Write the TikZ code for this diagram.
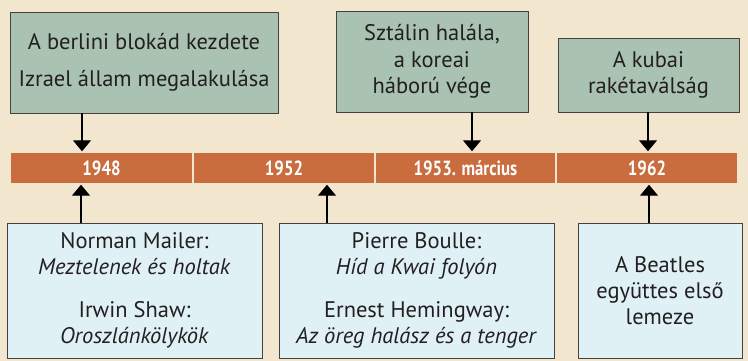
\documentclass[tikz,border=0pt]{standalone}
\usepackage{fontspec}
\setmainfont{PT Sans}
\newfontfamily\barfont[FakeStretch=0.82]{PT Sans}
\usetikzlibrary{arrows.meta}
\definecolor{parch}{RGB}{243,230,206}
\definecolor{topfill}{RGB}{170,194,178}
\definecolor{botfill}{RGB}{224,241,246}
\definecolor{barfill}{RGB}{201,108,62}
\definecolor{ink}{RGB}{35,31,32}
\tikzset{
  topbox/.style={draw=ink!85, line width=0.9pt, fill=topfill, inner sep=0pt, align=center, text=ink,
    font=\fontsize{22.5}{26.5}\selectfont},
  botbox/.style={draw=ink!85, line width=0.9pt, fill=botfill, inner sep=0pt, align=center, text=ink,
    font=\fontsize{22.5}{26}\selectfont},
  seg/.style={fill=barfill, draw=none, inner sep=0pt, minimum height=30pt, text=white,
    font=\barfont\bfseries\fontsize{20.5}{24}\selectfont},
  arr/.style={line width=1.1pt, draw=black, -{Triangle[width=18pt,length=11pt]}, shorten >=1.5pt}
}
\begin{document}
\begin{tikzpicture}[x=1pt,y=-1pt]
\fill[parch] (0,0) rectangle (748,361);
\useasboundingbox (0,0) rectangle (748,361);
% top boxes
\node[topbox, minimum width=268pt, minimum height=101pt] (t1) at (144,62.5)
  {A berlini blokád kezdete\\[11pt]Izrael állam megalakulása};
\node[topbox, minimum width=192pt, minimum height=101pt] (t2) at (432,61.5)
  {Sztálin halála,\\a koreai\\háború vége};
\node[topbox, minimum width=181pt, minimum height=74pt] (t3) at (648.5,75)
  {A kubai\\rakétaválság};
% bar
\node[seg, minimum width=181pt] (s1) at (101.5,168) {1948};
\node[seg, minimum width=180pt] (s2) at (284,168) {1952};
\node[seg, minimum width=179pt] (s3) at (465.5,168) {1953. március};
\node[seg, minimum width=180pt] (s4) at (647,168) {1962};
% bottom boxes
\node[botbox, minimum width=255pt, minimum height=135pt] (b1) at (134.5,290.5)
  {Norman Mailer:\\\textit{Meztelenek és holtak}\\[17pt]Irwin Shaw:\\\textit{Oroszlánkölykök}};
\node[botbox, minimum width=275pt, minimum height=135pt] (b2) at (416.5,290.5)
  {Pierre Boulle:\\\textit{Híd a Kwai folyón}\\[17pt]Ernest Hemingway:\\\textit{Az öreg halász és a tenger}};
\node[botbox, minimum width=164pt, minimum height=135pt] (b3) at (660,290.5)
  {A Beatles\\együttes első\\lemeze};
% arrow x positions
\coordinate (x1) at (82,0);
\coordinate (x2) at (472,0);
\coordinate (x3) at (648,0);
\coordinate (x4) at (81,0);
\coordinate (x5) at (327,0);
\coordinate (x6) at (649,0);
\draw[arr] (t1.south -| x1) -- (s1.north -| x1);
\draw[arr] (t2.south -| x2) -- (s3.north -| x2);
\draw[arr] (t3.south -| x3) -- (s4.north -| x3);
\draw[arr] (b1.north -| x4) -- (s1.south -| x4);
\draw[arr] (b2.north -| x5) -- (s2.south -| x5);
\draw[arr] (b3.north -| x6) -- (s4.south -| x6);
\end{tikzpicture}
\end{document}
